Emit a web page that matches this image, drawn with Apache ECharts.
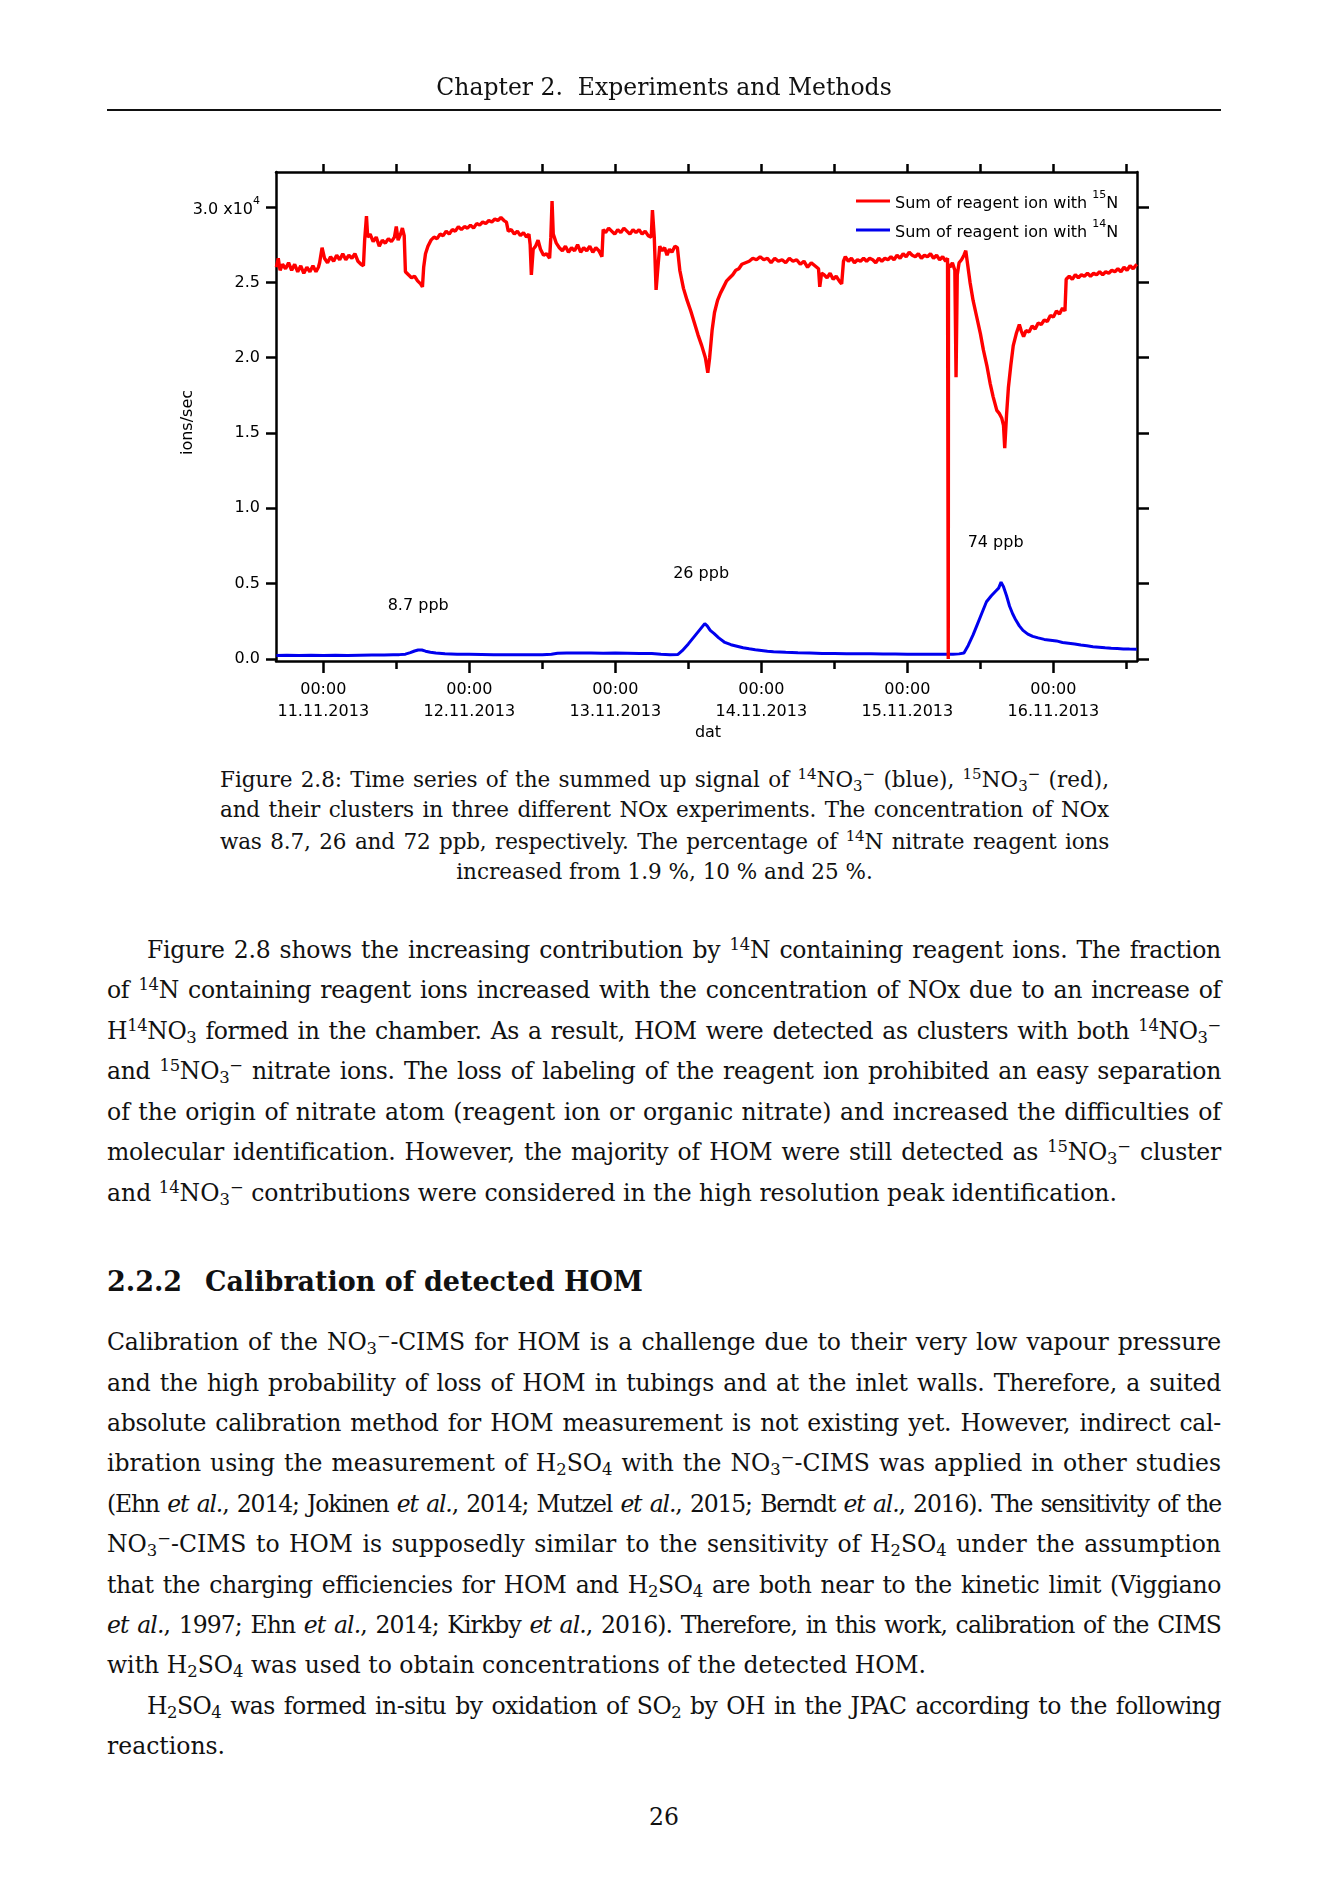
<!DOCTYPE html>
<html>
<head>
<meta charset="utf-8">
<script src="https://cdn.jsdelivr.net/npm/echarts@6/dist/echarts.min.js"></script>
<style>
html,body{margin:0;padding:0;background:#fff;}
#page{position:relative;width:1336px;height:1890px;overflow:hidden;background:#fff;font-family:'DejaVu Serif',serif;color:#111;}
#chart{position:absolute;left:0;top:0;width:1336px;height:760px;}
.ln{position:absolute;height:40px;line-height:40px;font-size:23.5px;white-space:nowrap;}
.ln.cap{font-size:21.5px;}
.ln span{white-space:nowrap;}
sup,sub{font-size:0.7em;line-height:0;position:relative;vertical-align:baseline;}
sup{top:-0.5em;}
sub{top:0.25em;}
.rule{position:absolute;left:107px;width:1114px;top:109px;height:1.5px;background:#111;}
.head{position:absolute;height:40px;line-height:40px;font-size:27px;font-weight:bold;white-space:nowrap;}
</style>
</head>
<body>
<div id="page">
  <div id="chart"></div>
  <div id="text"></div>
</div>
<script>
// ---------------- DATA ----------------
const seriesNames = ['Sum of reagent ion with 15N', 'Sum of reagent ion with 14N'];
const dayTickHours = [0, 24, 48, 72, 96, 120];
const dayTickTime = '00:00';
const dayTickDates = ['11.11.2013', '12.11.2013', '13.11.2013', '14.11.2013', '15.11.2013', '16.11.2013'];
const halfDayTickHours = [0, 12, 24, 36, 48, 60, 72, 84, 96, 108, 120, 132];
const minorBottomTickHours = [12, 36, 60, 84, 108, 132];
const yTickValues = [0, 5000, 10000, 15000, 20000, 25000, 30000];
const xAxisName = 'dat';
const yAxisName = 'ions/sec';
const concentrationLabels = [
  {text: '8.7 ppb', hour: 15.6, ions: 3500},
  {text: '26 ppb', hour: 62.1, ions: 5650},
  {text: '74 ppb', hour: 110.5, ions: 7730}
];
// hours since 11.11.2013 00:00, ions/sec
const red15N = [
[-7.7,26000],[-7.4,26600],[-7.1,25800],[-6.7,26200],[-6.2,25900],[-5.7,26300],[-5.2,25800],[-4.7,26200],[-4.2,25700],[-3.7,26100],
[-3.2,25600],[-2.7,26000],[-2.2,25700],[-1.7,26100],[-1.2,25700],[-0.8,26000],[-0.6,26300],[-0.4,26800],[-0.2,27300],[0.2,26600],
[0.7,26300],[1.2,26700],[1.7,26400],[2.2,26800],[2.7,26500],[3.2,26900],[3.7,26500],[4.2,26800],[4.7,26600],[5.2,26900],
[5.7,26400],[6.2,26200],[6.6,26100],[6.8,27800],[7.1,29400],[7.3,28000],[7.7,28200],[8.2,27700],[8.7,28000],[9.2,27400],
[9.7,27800],[10.2,27600],[10.7,27900],[11.2,27700],[11.7,28000],[12.0,28700],[12.3,27800],[12.7,28200],[13.0,28600],[13.3,28100],
[13.5,25700],[14.0,25500],[14.5,25300],[15.0,25400],[15.5,25100],[16.0,24900],[16.3,24700],[16.5,26000],[16.8,26900],[17.2,27400],
[17.7,27800],[18.2,28000],[18.7,27900],[19.2,28200],[19.7,28100],[20.2,28400],[20.7,28200],[21.2,28500],[21.7,28400],[22.2,28700],
[22.7,28500],[23.2,28700],[23.7,28600],[24.2,28800],[24.7,28600],[25.2,28900],[25.7,28800],[26.2,29000],[26.7,28900],[27.2,29100],
[27.7,29000],[28.2,29200],[28.7,29100],[29.2,29300],[29.7,29100],[30.1,29000],[30.4,28400],[30.9,28500],[31.4,28200],[31.9,28400],
[32.4,28100],[32.9,28300],[33.4,28000],[33.8,28200],[34.0,27500],[34.2,25500],[34.5,27200],[34.9,27400],[35.3,27800],[35.7,27200],
[36.2,26800],[36.7,26900],[37.2,26600],[37.4,28000],[37.6,30400],[37.8,28200],[38.3,27600],[38.8,27300],[39.3,27100],[39.8,27400],
[40.3,27000],[40.8,27300],[41.3,27100],[41.8,27500],[42.3,27000],[42.8,27300],[43.3,27100],[43.8,27400],[44.3,27000],[44.8,27300],
[45.3,27100],[45.8,26700],[46.0,28500],[46.4,28300],[46.9,28600],[47.4,28400],[47.9,28200],[48.4,28500],[48.9,28300],[49.4,28600],
[49.9,28400],[50.4,28200],[50.9,28500],[51.4,28300],[51.9,28500],[52.4,28200],[52.9,28400],[53.4,28100],[53.9,28000],[54.1,29800],
[54.4,28000],[54.7,24500],[55.0,26000],[55.3,27400],[55.7,27100],[56.1,27300],[56.5,26800],[56.9,27200],[57.3,27000],[57.8,27400],
[58.2,27300],[58.6,25800],[59.2,24600],[59.8,23800],[60.4,23100],[61.0,22300],[61.6,21500],[62.2,20800],[62.8,20000],[63.2,19000],
[63.5,20000],[63.9,21800],[64.3,23000],[64.8,23800],[65.3,24300],[65.8,24700],[66.3,25100],[66.8,25300],[67.3,25500],[67.8,25800],
[68.3,25900],[68.8,26200],[69.4,26300],[70.0,26400],[70.6,26600],[71.2,26500],[71.8,26700],[72.4,26500],[73.0,26600],[73.6,26300],
[74.2,26600],[74.8,26400],[75.4,26500],[76.0,26300],[76.6,26600],[77.2,26400],[77.8,26500],[78.4,26200],[79.0,26400],[79.6,26000],
[80.2,26300],[80.8,26100],[81.4,25900],[81.6,24700],[81.9,25600],[82.3,25500],[82.8,25300],[83.3,25600],[83.8,25200],[84.3,25400],
[84.8,25100],[85.2,24900],[85.5,26400],[85.8,26700],[86.3,26400],[86.8,26600],[87.3,26300],[87.8,26500],[88.3,26400],[88.8,26600],
[89.3,26400],[89.8,26600],[90.3,26500],[90.8,26300],[91.3,26600],[91.8,26400],[92.3,26600],[92.8,26500],[93.3,26700],[93.8,26500],
[94.3,26800],[94.8,26600],[95.3,26900],[95.8,26700],[96.3,27000],[96.8,26800],[97.3,26700],[97.8,26900],[98.3,26600],[98.8,26800],
[99.3,26700],[99.8,26900],[100.3,26600],[100.8,26800],[101.3,26500],[101.8,26700],[102.3,26400],[102.6,26600],[102.68,26500],[102.72,0],
[102.76,26200],[103.0,26000],[103.4,26300],[103.8,25800],[104.0,18700],[104.2,25500],[104.5,26300],[104.9,26500],[105.3,26800],[105.6,27100],
[105.9,26200],[106.3,25000],[106.8,23800],[107.4,22700],[108.0,21600],[108.5,20500],[109.1,19400],[109.6,18300],[110.1,17400],[110.7,16500],
[111.1,16300],[111.5,16000],[111.8,15500],[112.0,14000],[112.3,16200],[112.6,18000],[113.0,19500],[113.4,20800],[113.9,21600],[114.4,22200],
[114.7,21800],[115.1,21400],[115.5,21800],[116.0,21700],[116.5,22100],[117.0,21900],[117.5,22300],[118.0,22200],[118.5,22500],[119.0,22400],
[119.5,22800],[120.0,22700],[120.5,23100],[121.0,22900],[121.5,23300],[121.9,23100],[122.1,25200],[122.6,25400],[123.1,25200],[123.6,25500],
[124.1,25300],[124.6,25500],[125.1,25400],[125.6,25600],[126.1,25400],[126.6,25600],[127.1,25500],[127.6,25700],[128.1,25500],[128.6,25700],
[129.1,25600],[129.6,25800],[130.1,25700],[130.6,25900],[131.1,25700],[131.6,26000],[132.1,25800],[132.6,26100],[133.1,25900],[133.7,26200]
];
const blue14N = [
[-7.7,230],[-6.0,250],[-4.0,230],[-2.0,250],[0.0,240],[2.0,250],[4.0,230],[6.0,250],[8.0,260],[10.0,270],
[11.5,290],[12.5,290],[13.5,320],[14.3,420],[15.0,530],[15.6,600],[16.2,600],[16.8,520],[17.6,450],[18.5,400],
[20.0,350],[22.0,320],[24.0,310],[26.0,300],[28.0,290],[30.0,280],[32.0,280],[34.0,280],[36.0,280],[37.5,310],
[38.5,380],[40.0,400],[42.0,390],[44.0,400],[46.0,380],[48.0,390],[50.0,380],[52.0,370],[54.0,360],[55.5,310],
[57.0,290],[58.3,300],[59.0,550],[60.0,1000],[61.0,1500],[62.0,2000],[62.7,2350],[63.1,2200],[63.6,1900],[64.2,1700],
[65.0,1400],[66.0,1100],[67.0,950],[68.0,850],[69.0,750],[70.0,680],[71.0,620],[72.0,570],[73.0,520],[74.0,480],
[76.0,440],[78.0,410],[80.0,390],[82.0,370],[84.0,360],[86.0,350],[88.0,340],[90.0,340],[92.0,330],[94.0,330],
[96.0,320],[98.0,320],[100.0,320],[102.0,310],[103.5,320],[104.5,340],[105.3,400],[106.0,900],[106.8,1600],[107.5,2300],
[108.3,3100],[109.0,3800],[109.8,4200],[110.5,4500],[111.0,4700],[111.4,5100],[111.8,4800],[112.3,4200],[112.8,3500],[113.3,3000],
[113.8,2600],[114.4,2200],[115.0,1900],[115.8,1650],[116.6,1500],[117.5,1400],[118.5,1300],[119.5,1250],[120.5,1200],[121.5,1100],
[122.5,1050],[123.5,1000],[124.5,930],[125.5,880],[126.5,820],[127.5,780],[128.5,740],[129.5,710],[130.5,690],[131.5,670],
[132.5,660],[133.7,650]
];

// ---------------- PAGE TEXT ----------------
const M = '<sup>\u2212</sup>';
const pageLines = [
  // [top, left, width, mode, html, extraClass]
  [67, 107, 1114, 'c', 'Chapter 2.&nbsp; Experiments and Methods'],
  [760, 220, 889, 'j', 'Figure 2.8: Time series of the summed up signal of <sup>14</sup>NO<sub>3</sub>'+M+' (blue), <sup>15</sup>NO<sub>3</sub>'+M+' (red),', 'cap'],
  [790, 220, 889, 'j', 'and their clusters in three different NOx experiments. The concentration of NOx', 'cap'],
  [822, 220, 889, 'j', 'was 8.7, 26 and 72 ppb, respectively. The percentage of <sup>14</sup>N nitrate reagent ions', 'cap'],
  [852, 220, 889, 'c', 'increased from 1.9 %, 10 % and 25 %.', 'cap'],
  [930, 147, 1074, 'j', 'Figure 2.8 shows the increasing contribution by <sup>14</sup>N containing reagent ions. The fraction'],
  [970, 107, 1114, 'j', 'of <sup>14</sup>N containing reagent ions increased with the concentration of NOx due to an increase of'],
  [1011, 107, 1114, 'j', 'H<sup>14</sup>NO<sub>3</sub> formed in the chamber. As a result, HOM were detected as clusters with both <sup>14</sup>NO<sub>3</sub>'+M],
  [1051, 107, 1114, 'j', 'and <sup>15</sup>NO<sub>3</sub>'+M+' nitrate ions. The loss of labeling of the reagent ion prohibited an easy separation'],
  [1092, 107, 1114, 'j', 'of the origin of nitrate atom (reagent ion or organic nitrate) and increased the difficulties of'],
  [1132, 107, 1114, 'j', 'molecular identification. However, the majority of HOM were still detected as <sup>15</sup>NO<sub>3</sub>'+M+' cluster'],
  [1173, 107, 1114, 'l', 'and <sup>14</sup>NO<sub>3</sub>'+M+' contributions were considered in the high resolution peak identification.'],
  [1322, 107, 1114, 'j', 'Calibration of the NO<sub>3</sub>'+M+'-CIMS for HOM is a challenge due to their very low vapour pressure'],
  [1363, 107, 1114, 'j', 'and the high probability of loss of HOM in tubings and at the inlet walls. Therefore, a suited'],
  [1403, 107, 1114, 'j', 'absolute calibration method for HOM measurement is not existing yet. However, indirect cal-'],
  [1443, 107, 1114, 'j', 'ibration using the measurement of H<sub>2</sub>SO<sub>4</sub> with the NO<sub>3</sub>'+M+'-CIMS was applied in other studies'],
  [1484, 107, 1114, 'j', '(Ehn <i>et al.</i>, 2014; Jokinen <i>et al.</i>, 2014; Mutzel <i>et al.</i>, 2015; Berndt <i>et al.</i>, 2016). The sensitivity of the'],
  [1524, 107, 1114, 'j', 'NO<sub>3</sub>'+M+'-CIMS to HOM is supposedly similar to the sensitivity of H<sub>2</sub>SO<sub>4</sub> under the assumption'],
  [1565, 107, 1114, 'j', 'that the charging efficiencies for HOM and H<sub>2</sub>SO<sub>4</sub> are both near to the kinetic limit (Viggiano'],
  [1605, 107, 1114, 'j', '<i>et al.</i>, 1997; Ehn <i>et al.</i>, 2014; Kirkby <i>et al.</i>, 2016). Therefore, in this work, calibration of the CIMS'],
  [1645, 107, 1114, 'l', 'with H<sub>2</sub>SO<sub>4</sub> was used to obtain concentrations of the detected HOM.'],
  [1686, 147, 1074, 'j', 'H<sub>2</sub>SO<sub>4</sub> was formed in-situ by oxidation of SO<sub>2</sub> by OH in the JPAC according to the following'],
  [1726, 107, 1114, 'l', 'reactions.'],
  [1797, 107, 1114, 'c', '26']
];
const headingNumber = '2.2.2';
const headingTitle = 'Calibration of detected HOM';

const textRoot = document.getElementById('text');
const rule = document.createElement('div'); rule.className = 'rule'; textRoot.appendChild(rule);
pageLines.forEach(function (l) {
  const d = document.createElement('div');
  d.className = 'ln' + (l[5] ? ' ' + l[5] : '');
  d.style.top = l[0] + 'px'; d.style.left = l[1] + 'px'; d.style.width = l[2] + 'px';
  d.style.textAlign = l[3] === 'c' ? 'center' : 'left';
  d.innerHTML = '<span>' + l[4] + '</span>';
  d.dataset.mode = l[3];
  textRoot.appendChild(d);
});
const h1 = document.createElement('div'); h1.className = 'head'; h1.style.top = '1262px'; h1.style.left = '107px'; h1.textContent = headingNumber; textRoot.appendChild(h1);
const h2 = document.createElement('div'); h2.className = 'head'; h2.style.top = '1262px'; h2.style.left = '205px'; h2.textContent = headingTitle; textRoot.appendChild(h2);

function justifyAll() {
  document.querySelectorAll('.ln').forEach(function (d) {
    if (d.dataset.mode !== 'j') return;
    const s = d.firstElementChild;
    s.style.wordSpacing = '0px';
    s.style.letterSpacing = '0px';
    let natural = s.getBoundingClientRect().width;
    const target = d.clientWidth;
    const n = (s.textContent.match(/ /g) || []).length;
    if (natural > target - n * 1) {
      const chars = s.textContent.length;
      s.style.letterSpacing = ((target - n * 2 - natural) / chars) + 'px';
      natural = s.getBoundingClientRect().width;
    }
    if (n > 0) s.style.wordSpacing = ((target - natural) / n) + 'px';
  });
}
justifyAll();
if (document.fonts && document.fonts.ready) document.fonts.ready.then(justifyAll);

// ---------------- CHART ----------------
const FONT = 'DejaVu Sans';
const BLACK = '#000';
const lineSt = {color: BLACK, width: 2.5};
const xMin = -7.77, xMax = 133.74, yMin = -133, yMax = 32324;
const chart = echarts.init(document.getElementById('chart'), null, {renderer: 'canvas'});

function supName(name) {
  const m = name.match(/^(.*?)(\d+)N$/);
  return m ? '{n|' + m[1] + '}{sup|' + m[2] + '}{n|N}' : name;
}

const option = {
  animation: false,
  textStyle: {fontFamily: FONT, color: BLACK},
  grid: [
    {left: 276, top: 172, width: 861, height: 489},
    {left: 276, top: 172, width: 861, height: 489}
  ],
  legend: {
    data: seriesNames,
    orient: 'vertical',
    left: 851,
    top: 185,
    itemWidth: 34,
    itemHeight: 3,
    itemGap: 7,
    icon: 'rect',
    formatter: supName,
    textStyle: {
      fontFamily: FONT, fontSize: 16, color: BLACK,
      rich: {
        n: {fontFamily: FONT, fontSize: 16, color: BLACK, lineHeight: 22, verticalAlign: 'bottom'},
        sup: {fontFamily: FONT, fontSize: 11, color: BLACK, lineHeight: 11, verticalAlign: 'top'}
      }
    }
  },
  xAxis: [
    {
      type: 'value', gridIndex: 0, position: 'bottom', min: xMin, max: xMax,
      axisLine: {show: true, onZero: false, lineStyle: lineSt},
      axisTick: {show: true, inside: false, length: 12, lineStyle: lineSt, customValues: dayTickHours},
      axisLabel: {
        customValues: dayTickHours, margin: 18, fontFamily: FONT, fontSize: 16, lineHeight: 22, color: BLACK,
        formatter: function (v) {
          const i = dayTickHours.indexOf(v);
          return dayTickTime + '\n' + (i >= 0 ? dayTickDates[i] : '');
        }
      },
      splitLine: {show: false},
      name: xAxisName, nameLocation: 'middle', nameGap: 64, nameMoveOverlap: false,
      nameTextStyle: {fontFamily: FONT, fontSize: 16, color: BLACK, padding: [0, 0, 0, 3]}
    },
    {
      type: 'value', gridIndex: 0, position: 'top', min: xMin, max: xMax,
      axisLine: {show: true, onZero: false, lineStyle: lineSt},
      axisTick: {show: true, inside: false, length: 8, lineStyle: lineSt, customValues: halfDayTickHours},
      axisLabel: {show: false},
      splitLine: {show: false}
    },
    {
      type: 'value', gridIndex: 1, position: 'bottom', min: xMin, max: xMax,
      axisLine: {show: false, onZero: false},
      axisTick: {show: true, inside: false, length: 8, lineStyle: lineSt, customValues: minorBottomTickHours},
      axisLabel: {show: false},
      splitLine: {show: false}
    }
  ],
  yAxis: [
    {
      type: 'value', gridIndex: 0, position: 'left', min: yMin, max: yMax,
      axisLine: {show: true, onZero: false, lineStyle: lineSt},
      axisTick: {show: true, inside: false, length: 10, lineStyle: lineSt, customValues: yTickValues},
      axisLabel: {
        customValues: yTickValues, margin: 16, fontFamily: FONT, fontSize: 16, color: BLACK,
        formatter: function (v) {
          const t = (v / 10000).toFixed(1);
          return v === yTickValues[yTickValues.length - 1] ? '{n|' + t + ' x10}{sup|4}' : t;
        },
        rich: {
          n: {fontFamily: FONT, fontSize: 16, color: BLACK, lineHeight: 22, verticalAlign: 'bottom'},
          sup: {fontFamily: FONT, fontSize: 11, color: BLACK, lineHeight: 11, verticalAlign: 'top'}
        }
      },
      splitLine: {show: false},
      name: yAxisName, nameLocation: 'middle', nameRotate: 90, nameGap: 80, nameMoveOverlap: false,
      nameTextStyle: {fontFamily: FONT, fontSize: 16, color: BLACK, padding: [0, 12, 0, 0]}
    },
    {
      type: 'value', gridIndex: 0, position: 'right', min: yMin, max: yMax,
      axisLine: {show: true, onZero: false, lineStyle: lineSt},
      axisTick: {show: true, inside: false, length: 12, lineStyle: lineSt, customValues: yTickValues},
      axisLabel: {show: false},
      splitLine: {show: false}
    },
    {
      type: 'value', gridIndex: 1, min: yMin, max: yMax, show: false
    }
  ],
  series: [
    {
      name: seriesNames[1], type: 'line', xAxisIndex: 0, yAxisIndex: 0,
      data: blue14N, showSymbol: false, symbol: 'none', z: 2,
      lineStyle: {color: '#0000ee', width: 3}, itemStyle: {color: '#0000ee'},
      markPoint: {
        symbol: 'circle', symbolSize: 0, silent: true,
        label: {show: true, position: 'inside', formatter: '{b}', fontFamily: FONT, fontSize: 16, color: BLACK},
        data: concentrationLabels.map(function (a) { return {name: a.text, coord: [a.hour, a.ions]}; })
      }
    },
    {
      name: seriesNames[0], type: 'line', xAxisIndex: 0, yAxisIndex: 0,
      data: red15N, showSymbol: false, symbol: 'none', z: 3,
      lineStyle: {color: '#ff0000', width: 3.4, join: 'bevel'}, itemStyle: {color: '#ff0000'}
    }
  ]
};
chart.setOption(option);
</script>
</body>
</html>
